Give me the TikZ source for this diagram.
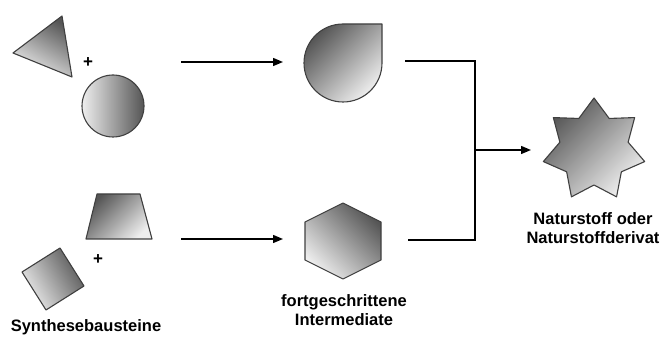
\documentclass[tikz,border=0pt]{standalone}
\usepackage{fontspec}
\setmainfont{Liberation Sans}
\usetikzlibrary{arrows.meta}
\definecolor{shdark}{HTML}{555555}
\definecolor{shlight}{HTML}{EEEEEE}
\definecolor{edgec}{HTML}{404040}
\tikzset{
  shp/.style={draw=edgec, line width=1.1pt, line join=round, top color=shdark, bottom color=shlight, shading angle=#1},
  conn/.style={draw=black, line width=1.4pt},
  arr/.style={conn, -{Triangle[length=10pt,width=8pt]}},
  lbl/.style={font=\bfseries\fontsize{16.5}{19}\selectfont, align=center, inner sep=0pt},
  plus/.style={font=\bfseries\fontsize{17}{17}\selectfont, inner sep=0pt}
}
\begin{document}
\begin{tikzpicture}[x=1pt,y=1pt]
\useasboundingbox (0,0) rectangle (664,337);
% building blocks
\path[shp=-30] (13,284) -- (62,321) -- (72,260) -- cycle;
\node[plus] (p1) at (88,274) {+};
\path[shp=-90] (113,231) circle[radius=31];
\path[shp=45] (97,143) -- (140,143) -- (152,98) -- (86,98) -- cycle;
\node[plus] (p2) at (98,77) {+};
\path[shp=-60] (22,65) -- (60,89) -- (84,51) -- (46,27) -- cycle;
\node[lbl] (syn) at (86,10) {Synthesebausteine};
% intermediates
\path[shp=45] (382,313) -- (382,274) arc[start angle=0, end angle=-270, radius=39] -- cycle;
\path[shp=-45] (343,134) -- (381,115) -- (381,77) -- (343,58) -- (305,77) -- (305,115) -- cycle;
\node[lbl] (inter) at (344,27) {fortgeschrittene\\Intermediate};
% natural product star
\path[shp=45] plot[samples at={0,...,13}, variable=\k]
  ({594+(mod(\k,2)==0 ? 52 : 35)*cos(90+\k*360/14)},
   {187+(mod(\k,2)==0 ? 52 : 35)*sin(90+\k*360/14)}) -- cycle;
\node[lbl] (nat) at (593,109) {Naturstoff oder\\Naturstoffderivat};
% connectors
\coordinate (a1s) at (181,275);
\coordinate (a1e) at (283,275);
\coordinate (a2s) at (181,98);
\coordinate (a2e) at (283,98);
\coordinate (t1) at (405,276);
\coordinate (t2) at (408,97);
\coordinate (jx) at (475,187);
\coordinate (a3e) at (531,187);
\draw[arr] (a1s) -- (a1e);
\draw[arr] (a2s) -- (a2e);
\draw[conn] (t1) -| (jx) |- (t2);
\draw[arr] (jx) -- (a3e);
\end{tikzpicture}
\end{document}
